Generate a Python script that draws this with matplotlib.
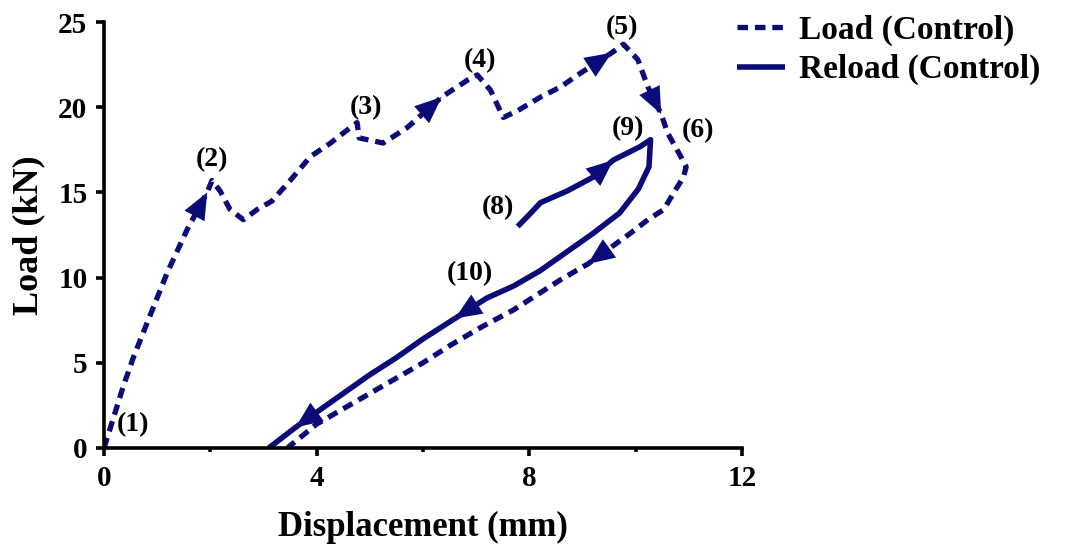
import matplotlib
matplotlib.use("Agg")
import matplotlib.pyplot as plt
from matplotlib.ticker import MultipleLocator

# Load path (control specimen), displacement in mm and load in kN
load_disp = [0.0, 0.1, 0.36, 0.55, 0.83, 1.19, 1.56, 1.94, 2.03, 2.18, 2.37, 2.62,
             2.88, 3.16, 3.5, 3.88, 4.26, 4.63, 4.76, 4.80, 5.25, 5.7, 6.35, 6.84,
             7.02, 7.27, 7.51, 7.78, 8.21, 8.59, 8.96, 9.55, 9.77, 10.04, 10.23,
             10.48, 10.6, 10.85, 10.95, 10.9, 10.72, 10.53, 10.23, 9.9, 9.1,
             8.6, 8.1, 7.7, 7.1, 6.5, 6.0, 5.5, 5.0, 4.5, 4.0, 3.45]
load_force = [0.0, 1.0, 3.6, 5.3, 7.5, 10.3, 12.8, 15.0, 15.7, 15.1, 14.0, 13.4,
              14.0, 14.5, 15.7, 17.1, 17.9, 18.8, 19.1, 18.2, 17.9, 18.8, 20.6, 21.6,
              21.9, 21.0, 19.4, 19.8, 20.6, 21.2, 22.0, 23.2, 23.7, 22.8, 21.2,
              19.6, 18.5, 17.1, 16.5, 15.9, 15.0, 14.0, 13.4, 12.6, 10.8,
              9.9, 8.9, 8.1, 7.1, 6.0, 5.0, 4.1, 3.2, 2.3, 1.4, 0.0]

# Reload path (control specimen)
reload_disp = [7.78, 8.0, 8.21, 8.72, 9.2, 9.58, 10.09, 10.28, 10.25, 10.05, 9.7,
               9.2, 8.7, 8.2, 7.7, 7.2, 6.6, 6.0, 5.5, 5.0, 4.5, 4.0, 3.6, 3.1]
reload_force = [13.0, 13.7, 14.4, 15.1, 15.9, 16.9, 17.7, 18.1, 16.5, 15.2, 13.8,
                12.6, 11.5, 10.4, 9.5, 8.8, 7.6, 6.4, 5.3, 4.3, 3.2, 2.1, 1.2, 0.0]

# Indices of points where direction arrows are drawn
load_arrow_idx = [7, 22, 31, 35, 44]
reload_arrow_idx = [5, 16, 22]

# Stage labels
stage_labels = ["(1)", "(2)", "(3)", "(4)", "(5)", "(6)", "(8)", "(9)", "(10)"]
stage_x = [0.55, 2.03, 4.92, 7.08, 9.75, 11.17, 7.4, 9.85, 6.89]
stage_y = [1.35, 16.9, 20.0, 22.75, 24.7, 18.65, 14.1, 18.77, 10.26]

x_ticks = [0, 4, 8, 12]
y_ticks = [0, 5, 10, 15, 20, 25]

navy = "#0c0c78"
serif = "Liberation Serif"

fig = plt.figure(figsize=(10.65, 5.53), dpi=100)
ax = fig.add_axes([0.0977, 0.19, 0.599, 0.77])

ax.plot(load_disp, load_force, color=navy, lw=3.8, linestyle=(0, (2.0, 1.3)),
        dash_capstyle="butt", label="Load (Control)")
ax.plot(reload_disp, reload_force, color=navy, lw=4.0, solid_capstyle="butt",
        label="Reload (Control)")


def add_arrows(xs, ys, idx_list):
    for i in idx_list:
        ax.annotate("", xy=(xs[i], ys[i]), xytext=(xs[i - 1], ys[i - 1]),
                    arrowprops=dict(arrowstyle="-|>,head_length=0.8,head_width=0.34",
                                    mutation_scale=24, lw=0, color=navy,
                                    shrinkA=0, shrinkB=0))


add_arrows(load_disp, load_force, load_arrow_idx)
add_arrows(reload_disp, reload_force, reload_arrow_idx)

for t, x, y in zip(stage_labels, stage_x, stage_y):
    ax.text(x, y, t, ha="center", va="center", fontsize=20, fontweight="bold",
            family=serif, color="black")

ax.set_xlim(0, 12)
ax.set_ylim(0, 25)
ax.set_xticks(x_ticks)
ax.set_yticks(y_ticks)
ax.xaxis.set_minor_locator(MultipleLocator(2))

for s in ["top", "right"]:
    ax.spines[s].set_visible(False)
for s in ["left", "bottom"]:
    ax.spines[s].set_linewidth(2.6)

ax.tick_params(which="major", direction="out", length=6, width=2.6, pad=6)
ax.tick_params(axis="x", which="minor", direction="out", length=3, width=2.6)
ax.tick_params(axis="y", which="minor", length=0)
for lab in ax.get_xticklabels() + ax.get_yticklabels():
    lab.set_fontfamily(serif)
    lab.set_fontweight("bold")
    lab.set_fontsize(21)

ax.set_xlabel("Displacement (mm)", fontsize=25, fontweight="bold", family=serif,
              labelpad=14)
ax.set_ylabel("Load (kN)", fontsize=26, fontweight="bold", family=serif, labelpad=9)

leg = ax.legend(loc="upper left", bbox_to_anchor=(0.945, 1.088), frameon=False,
                handlelength=1.45, handletextpad=0.4, labelspacing=0.25,
                prop=dict(family=serif, weight="bold", size=24))

fig.savefig("out.png", dpi=100)
